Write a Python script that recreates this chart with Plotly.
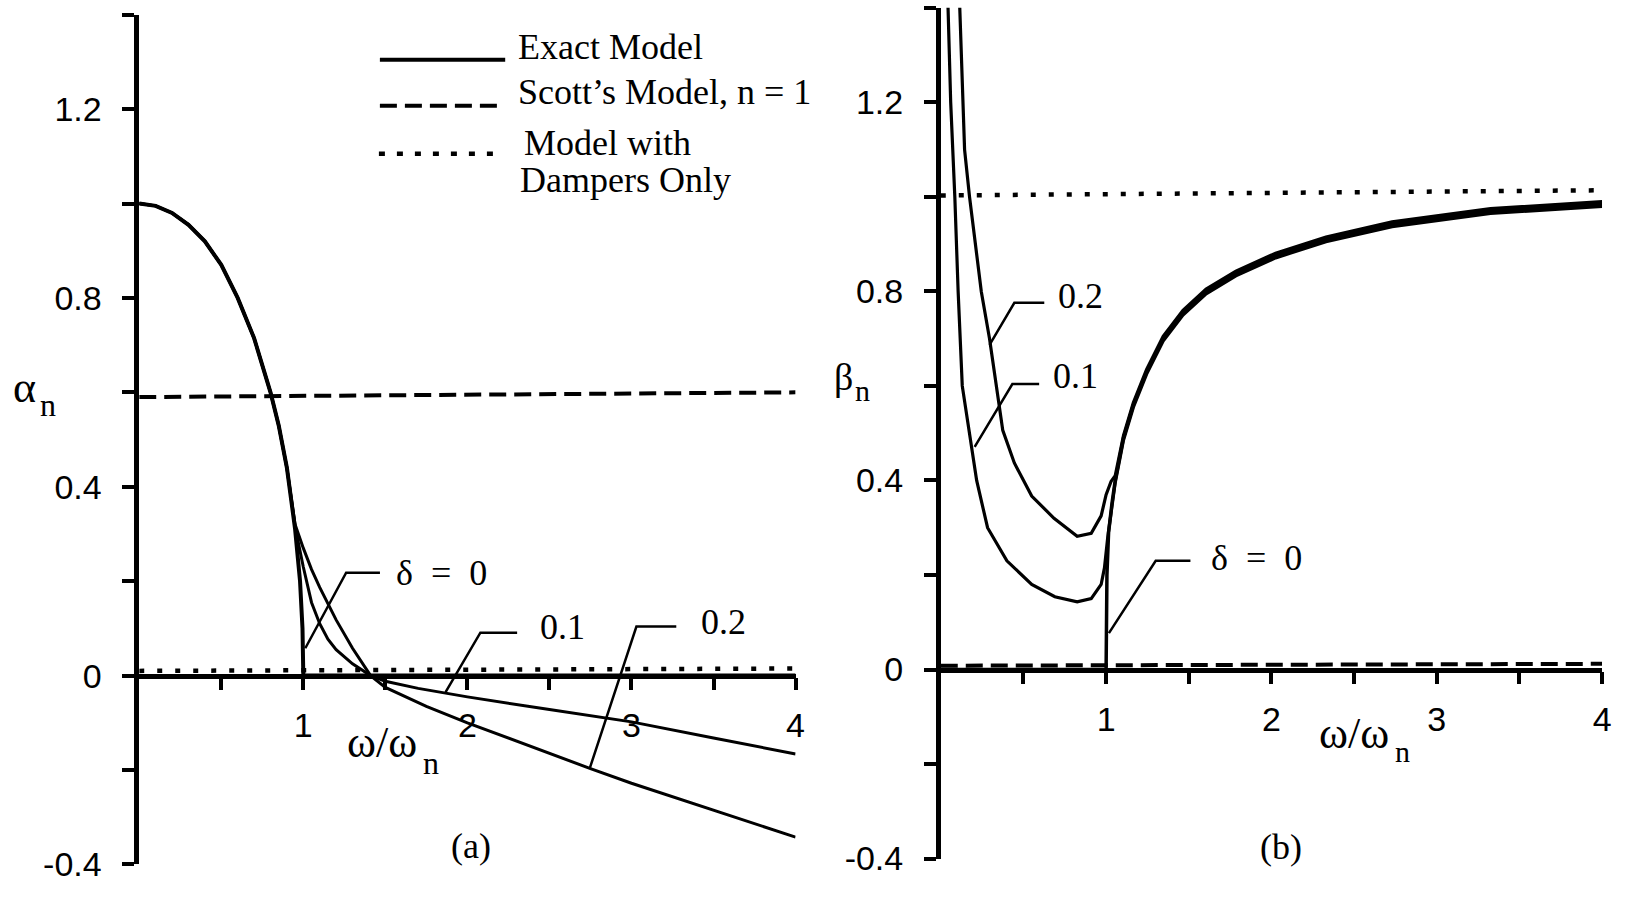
import plotly.graph_objects as go

W, H = 1629, 904

# ---------------- Panel (a): alpha_n ----------------
omega_a_d0 = [0, 0.1, 0.2, 0.3, 0.4, 0.5, 0.6, 0.7, 0.8, 0.85, 0.9, 0.95, 0.98, 0.995, 1.0, 2.0, 3.0, 4.0]
alpha_d0 = [1.0, 0.995, 0.98, 0.955, 0.92, 0.87, 0.80, 0.715, 0.60, 0.53, 0.44, 0.31, 0.20, 0.10, 0.0, 0.0, 0.0, 0.0]

omega_a_d01 = [0, 0.1, 0.2, 0.3, 0.4, 0.5, 0.6, 0.7, 0.8, 0.85, 0.9, 0.95, 1.0, 1.05, 1.1, 1.15, 1.2, 1.3,
               1.41, 1.5, 1.7, 2.0, 2.5, 3.0, 3.5, 4.0]
alpha_d01 = [1.0, 0.995, 0.98, 0.955, 0.92, 0.87, 0.80, 0.715, 0.60, 0.53, 0.44, 0.315, 0.23, 0.155, 0.11,
             0.077, 0.055, 0.025, 0.0, -0.012, -0.027, -0.045, -0.072, -0.098, -0.132, -0.166]

omega_a_d02 = [0, 0.1, 0.2, 0.3, 0.4, 0.5, 0.6, 0.7, 0.8, 0.85, 0.9, 0.95, 1.0, 1.05, 1.1, 1.2, 1.3,
               1.41, 1.5, 1.75, 2.0, 2.5, 2.75, 3.0, 3.5, 4.0]
alpha_d02 = [1.0, 0.995, 0.98, 0.955, 0.92, 0.87, 0.80, 0.715, 0.60, 0.53, 0.44, 0.32, 0.27, 0.225, 0.187,
             0.118, 0.058, 0.0, -0.025, -0.065, -0.10, -0.165, -0.197, -0.228, -0.285, -0.342]

omega_a_scott = [0, 4]
alpha_scott = [0.59, 0.60]
omega_a_damp = [0, 4]
alpha_damp = [0.01, 0.015]

# ---------------- Panel (b): beta_n ----------------
omega_b_d0 = [0, 1.0, 1.005, 1.015, 1.035, 1.055, 1.105, 1.165, 1.245, 1.345, 1.465, 1.605, 1.785,
              2.025, 2.33, 2.73, 3.325, 4.0]
beta_d0 = [0.0, 0.0, 0.2, 0.29, 0.35, 0.40, 0.49, 0.56, 0.63, 0.70, 0.755, 0.80, 0.838,
           0.876, 0.91, 0.942, 0.97, 0.985]

omega_b_d01 = [0.04, 0.06, 0.085, 0.105, 0.13, 0.175, 0.217, 0.283, 0.40, 0.55, 0.69, 0.825, 0.91, 0.97,
               0.99, 1.01, 1.035, 1.055, 1.105, 1.165, 1.245, 1.345, 1.465, 1.605, 1.785, 2.025, 2.33,
               2.73, 3.325, 4.0]
beta_d01 = [1.45, 1.2, 1.0, 0.8, 0.6, 0.5, 0.4, 0.30, 0.23, 0.18, 0.154, 0.143, 0.15, 0.18,
            0.215, 0.28, 0.345, 0.395, 0.485, 0.555, 0.625, 0.695, 0.75, 0.795, 0.833, 0.871, 0.905,
            0.937, 0.965, 0.98]

omega_b_d02 = [0.11, 0.135, 0.144, 0.174, 0.245, 0.295, 0.335, 0.375, 0.445, 0.55, 0.685, 0.825, 0.91,
               0.97, 1.0, 1.03, 1.055, 1.105, 1.165, 1.245, 1.345, 1.465, 1.605, 1.785, 2.025, 2.33,
               2.73, 3.325, 4.0]
beta_d02 = [1.45, 1.2, 1.1, 1.0, 0.8, 0.7, 0.6, 0.506, 0.437, 0.367, 0.32, 0.282, 0.288,
            0.325, 0.37, 0.398, 0.41, 0.495, 0.565, 0.635, 0.705, 0.76, 0.805, 0.843, 0.881, 0.915,
            0.947, 0.975, 0.99]

omega_b_scott = [0, 4]
beta_scott = [0.008, 0.012]
omega_b_damp = [0, 4]
beta_damp = [1.003, 1.014]

# ---------------- Axis ticks ----------------
x_tickvals = [0.5, 1, 1.5, 2, 2.5, 3, 3.5, 4]
x_ticktext = ["", "1", "", "2", "", "3", "", "4"]
y_tickvals = [-0.4, -0.2, 0, 0.2, 0.4, 0.6, 0.8, 1.0, 1.2, 1.4]
y_ticktext = ["-0.4", "", "0", "", "0.4", "", "0.8", "", "1.2", ""]

SANS = "Liberation Sans, Arial, sans-serif"
SERIF = "Liberation Serif, Times New Roman, serif"
BLACK = "black"


def px(x):
    return x / W


def py(y):
    return 1 - y / H


# layout geometry (pixels)
xa_dom = [px(140), px(800)]
ya_dom = [py(883), py(15)]
xb_dom = [px(946), px(1611)]
yb_dom = [py(877), py(8)]
YR = [-0.4, 1.4]


def zero_pos(dom):
    return dom[0] + (0 - YR[0]) / (YR[1] - YR[0]) * (dom[1] - dom[0])


fig = go.Figure()

DASH = "17px,8px"
DOT = "5px,13px"

# panel a traces
fig.add_trace(go.Scatter(x=omega_a_scott, y=alpha_scott, mode="lines",
                         line=dict(color=BLACK, width=4, dash=DASH), xaxis="x", yaxis="y"))
fig.add_trace(go.Scatter(x=omega_a_damp, y=alpha_damp, mode="lines",
                         line=dict(color=BLACK, width=4.5, dash=DOT), xaxis="x", yaxis="y"))
fig.add_trace(go.Scatter(x=omega_a_d0, y=alpha_d0, mode="lines",
                         line=dict(color=BLACK, width=4), xaxis="x", yaxis="y"))
fig.add_trace(go.Scatter(x=omega_a_d01, y=alpha_d01, mode="lines",
                         line=dict(color=BLACK, width=3), xaxis="x", yaxis="y"))
fig.add_trace(go.Scatter(x=omega_a_d02, y=alpha_d02, mode="lines",
                         line=dict(color=BLACK, width=3), xaxis="x", yaxis="y"))

# panel b traces
fig.add_trace(go.Scatter(x=omega_b_scott, y=beta_scott, mode="lines",
                         line=dict(color=BLACK, width=4, dash=DASH), xaxis="x2", yaxis="y2"))
fig.add_trace(go.Scatter(x=omega_b_damp, y=beta_damp, mode="lines",
                         line=dict(color=BLACK, width=4.5, dash=DOT), xaxis="x2", yaxis="y2"))
fig.add_trace(go.Scatter(x=omega_b_d0, y=beta_d0, mode="lines",
                         line=dict(color=BLACK, width=3.5), xaxis="x2", yaxis="y2"))
fig.add_trace(go.Scatter(x=omega_b_d01, y=beta_d01, mode="lines",
                         line=dict(color=BLACK, width=3.2), xaxis="x2", yaxis="y2"))
fig.add_trace(go.Scatter(x=omega_b_d02, y=beta_d02, mode="lines",
                         line=dict(color=BLACK, width=3.2), xaxis="x2", yaxis="y2"))


def xaxis_cfg(dom, ydom):
    return dict(domain=dom, range=[0, 4], anchor="free", position=zero_pos(ydom),
                showline=True, linewidth=4.5, linecolor=BLACK, ticks="outside", ticklen=12,
                tickwidth=3.5, tickcolor=BLACK, tickvals=x_tickvals, ticktext=x_ticktext,
                tickfont=dict(family=SANS, size=34, color=BLACK), ticklabelstandoff=6,
                showgrid=False, zeroline=False, fixedrange=True)


def yaxis_cfg(dom, anchor):
    return dict(domain=dom, range=YR, anchor=anchor, showline=True, linewidth=4.5, linecolor=BLACK,
                ticks="outside", ticklen=12, tickwidth=3.5, tickcolor=BLACK,
                tickvals=y_tickvals, ticktext=y_ticktext,
                tickfont=dict(family=SANS, size=34, color=BLACK), ticklabelstandoff=14,
                showgrid=False, zeroline=False, fixedrange=True)


fig.update_layout(
    width=W, height=H, margin=dict(l=0, r=0, t=0, b=0),
    paper_bgcolor="white", plot_bgcolor="white", showlegend=False,
    xaxis=xaxis_cfg(xa_dom, ya_dom),
    yaxis=yaxis_cfg(ya_dom, "x"),
    xaxis2=xaxis_cfg(xb_dom, yb_dom),
    yaxis2=yaxis_cfg(yb_dom, "x2"),
)

annotations = []


def ann(text, x, y, xref="paper", yref="paper", size=36, family=SERIF, xanchor="center"):
    annotations.append(dict(text=text, x=x, y=y, xref=xref, yref=yref, showarrow=False,
                            xanchor=xanchor, yanchor="middle",
                            font=dict(family=family, size=size, color=BLACK)))


# axis titles (symbol + large subscript) and panel labels
ann("α", px(25), py(396), size=44)
ann("n", px(48), py(414), size=32)
ann("β", px(848), py(385), size=38)
ann("n", px(867), py(399), size=30)
ann("ω/ω", px(384), py(758), size=44)
ann("n", px(433), py(779), size=32)
ann("ω/ω", px(1362), py(749), size=44)
ann("n", px(1410), py(768), size=30)
ann("(a)", px(474), py(864))
ann("(b)", px(1288), py(865))

# legend texts
ann("Exact Model", px(519), py(48), xanchor="left")
ann("Scott’s Model, n = 1", px(519), py(94), xanchor="left")
ann("Model with", px(525), py(146), xanchor="left")
ann("Dampers Only", px(521), py(184), xanchor="left")

# curve labels (data coordinates)
ann("δ\u2002=\u20020", 1.84, 0.218, "x", "y")
ann("0.1", 2.58, 0.104, "x", "y")
ann("0.2", 3.56, 0.114, "x", "y")
ann("δ\u2002=\u20020", 1.907, 0.237, "x2", "y2")
ann("0.2", 0.848, 0.79, "x2", "y2")
ann("0.1", 0.812, 0.62, "x2", "y2")

shapes = []
# legend sample lines
shapes.append(dict(type="line", xref="paper", yref="paper", x0=px(382), x1=px(508), y0=py(61), y1=py(61),
                   line=dict(color=BLACK, width=4)))
shapes.append(dict(type="line", xref="paper", yref="paper", x0=px(382), x1=px(500), y0=py(108), y1=py(108),
                   line=dict(color=BLACK, width=4, dash=DASH)))
shapes.append(dict(type="line", xref="paper", yref="paper", x0=px(381), x1=px(500), y0=py(157), y1=py(157),
                   line=dict(color=BLACK, width=4.5, dash="6px,12px")))


def leader(pts, xr, yr):
    d = "M " + " L ".join(f"{a},{b}" for a, b in pts)
    shapes.append(dict(type="path", path=d, xref=xr, yref=yr, line=dict(color=BLACK, width=2.5)))


leader([(1.467, 0.218), (1.261, 0.218), (1.012, 0.058)], "x", "y")
leader([(2.303, 0.091), (2.079, 0.091), (1.867, -0.035)], "x", "y")
leader([(3.273, 0.104), (3.03, 0.104), (2.745, -0.197)], "x", "y")
leader([(1.51, 0.230), (1.30, 0.230), (1.017, 0.077)], "x2", "y2")
leader([(0.626, 0.776), (0.445, 0.776), (0.295, 0.687)], "x2", "y2")
leader([(0.595, 0.604), (0.433, 0.604), (0.205, 0.471)], "x2", "y2")

fig.update_layout(annotations=annotations, shapes=shapes)

fig.write_html("out.html")
